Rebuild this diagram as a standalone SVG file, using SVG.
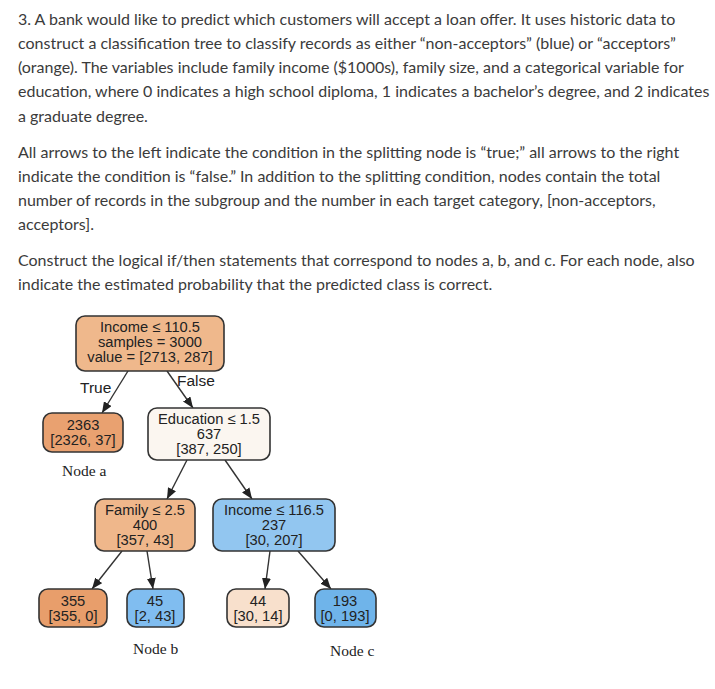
<svg xmlns="http://www.w3.org/2000/svg" width="715" height="689" viewBox="0 0 715 689">
<defs>
<style>
.p{font-family:Lato,"Open Sans","Liberation Sans",sans-serif;font-size:16px;fill:#3b3b3b}
.n{stroke:#333;stroke-width:1.6}
.t{font-family:"Liberation Sans",Arial,sans-serif;font-size:14.7px;fill:#222;text-anchor:middle}
.lb{font-family:"Liberation Sans",Arial,sans-serif;font-size:15.5px;fill:#222}
.nl{font-family:"Liberation Serif","Times New Roman",serif;font-size:15.5px;fill:#222}
.e{stroke:#333;stroke-width:1.4;fill:none;marker-end:url(#ah)}
</style>
<marker id="ah" viewBox="0 0 11 9" refX="11" refY="4.5" markerWidth="11" markerHeight="9" markerUnits="userSpaceOnUse" orient="auto">
<path d="M0,0 L11,4.5 L0,9 z" fill="#222"/>
</marker>
</defs>
<rect width="715" height="689" fill="#fff"/>
<g id="question">
<text class="p" x="18" y="25">3. A bank would like to predict which customers will accept a loan offer. It uses historic data to</text>
<text class="p" x="18" y="49">construct a classification tree to classify records as either “non-acceptors” (blue) or “acceptors”</text>
<text class="p" x="18" y="73">(orange). The variables include family income ($1000s), family size, and a categorical variable for</text>
<text class="p" x="18" y="97">education, where 0 indicates a high school diploma, 1 indicates a bachelor’s degree, and 2 indicates</text>
<text class="p" x="18" y="122">a graduate degree.</text>
<text class="p" x="18" y="158">All arrows to the left indicate the condition in the splitting node is “true;” all arrows to the right</text>
<text class="p" x="18" y="182">indicate the condition is “false.” In addition to the splitting condition, nodes contain the total</text>
<text class="p" x="18" y="206">number of records in the subgroup and the number in each target category, [non-acceptors,</text>
<text class="p" x="18" y="230">acceptors].</text>
<text class="p" x="18" y="266">Construct the logical if/then statements that correspond to nodes a, b, and c. For each node, also</text>
<text class="p" x="18" y="290">indicate the estimated probability that the predicted class is correct.</text>
</g>
<g id="edges">
<line class="e" x1="128" y1="371" x2="102" y2="413"/>
<line class="e" x1="167" y1="371" x2="193" y2="408"/>
<line class="e" x1="187" y1="460" x2="167" y2="499"/>
<line class="e" x1="225" y1="460" x2="252" y2="499"/>
<line class="e" x1="122" y1="551" x2="92" y2="589"/>
<line class="e" x1="147" y1="551" x2="153" y2="589"/>
<line class="e" x1="270" y1="551" x2="265" y2="589"/>
<line class="e" x1="298" y1="551" x2="331" y2="589"/>
<text class="lb" x="80" y="393">True</text>
<text class="lb" x="177" y="386">False</text>
</g>
<g id="root">
<rect class="n" x="76" y="316" width="148" height="55" rx="9" fill="#efb88c"/>
<text class="t" x="150" y="332">Income ≤ 110.5</text>
<text class="t" x="150" y="347">samples = 3000</text>
<text class="t" x="150" y="362">value = [2713, 287]</text>
</g>
<g id="nodeA">
<rect class="n" x="43" y="413" width="80" height="39" rx="9" fill="#e9a170"/>
<text class="t" x="83" y="430">2363</text>
<text class="t" x="83" y="445">[2326, 37]</text>
</g>
<g id="education">
<rect class="n" x="148" y="408" width="122" height="52" rx="9" fill="#fbf6f0"/>
<text class="t" x="209" y="424">Education ≤ 1.5</text>
<text class="t" x="209" y="439">637</text>
<text class="t" x="209" y="454">[387, 250]</text>
</g>
<g id="family">
<rect class="n" x="95" y="499" width="100" height="52" rx="9" fill="#efb78b"/>
<text class="t" x="145" y="515">Family ≤ 2.5</text>
<text class="t" x="145" y="530">400</text>
<text class="t" x="145" y="545">[357, 43]</text>
</g>
<g id="income2">
<rect class="n" x="213" y="499" width="122" height="52" rx="9" fill="#92c6f0"/>
<text class="t" x="274" y="515">Income ≤ 116.5</text>
<text class="t" x="274" y="530">237</text>
<text class="t" x="274" y="545">[30, 207]</text>
</g>
<g id="leaf355">
<rect class="n" x="39" y="589" width="68" height="38" rx="9" fill="#e89e6b"/>
<text class="t" x="73" y="606">355</text>
<text class="t" x="73" y="621">[355, 0]</text>
</g>
<g id="leaf45">
<rect class="n" x="127" y="589" width="57" height="38" rx="9" fill="#80bdf0"/>
<text class="t" x="155" y="606">45</text>
<text class="t" x="155" y="621">[2, 43]</text>
</g>
<g id="leaf44">
<rect class="n" x="227" y="589" width="62" height="38" rx="9" fill="#f8e0cc"/>
<text class="t" x="258" y="606">44</text>
<text class="t" x="258" y="621">[30, 14]</text>
</g>
<g id="leaf193">
<rect class="n" x="315" y="589" width="61" height="38" rx="9" fill="#6fb4ea"/>
<text class="t" x="345" y="606">193</text>
<text class="t" x="345" y="621">[0, 193]</text>
</g>
<g id="labels">
<text class="nl" x="62" y="476">Node a</text>
<text class="nl" x="133" y="654">Node b</text>
<text class="nl" x="330" y="656">Node c</text>
</g>
</svg>
